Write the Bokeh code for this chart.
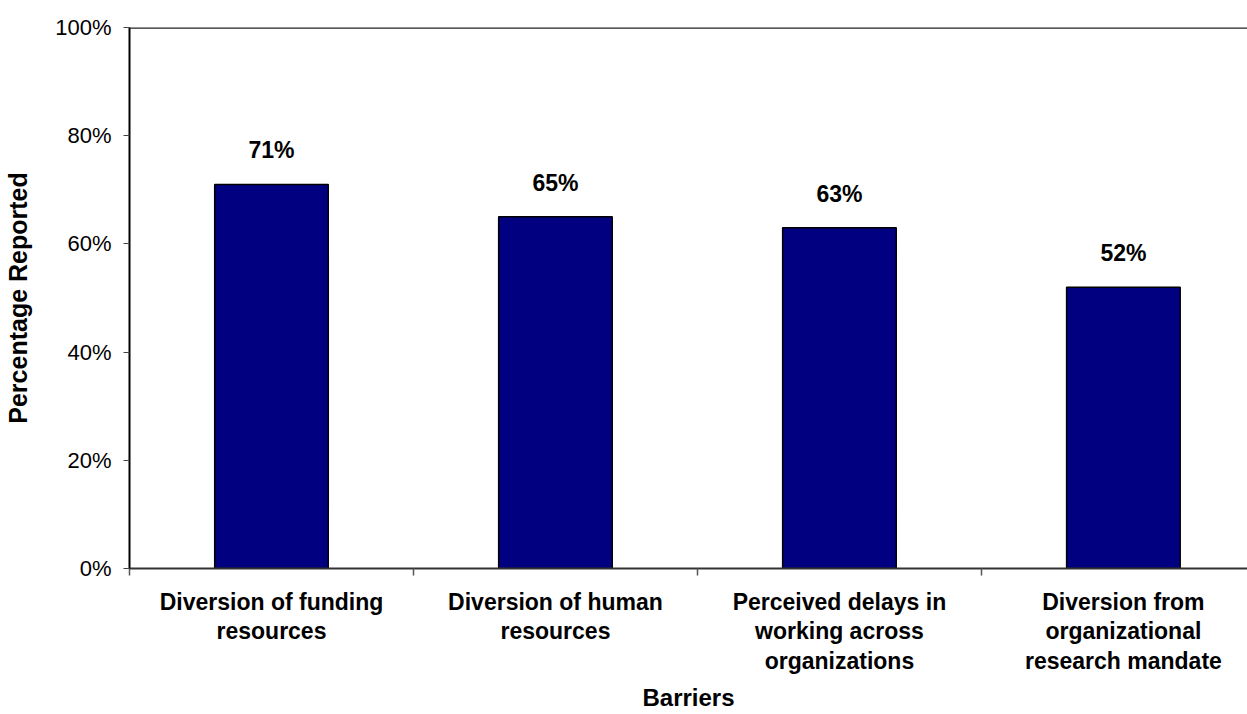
from bokeh.plotting import figure
from bokeh.models import Range1d, FixedTicker, Span, ColumnDataSource
from bokeh.core.properties import value
from bokeh.embed import file_html
from bokeh.resources import INLINE

categories = ["Diversion of funding\nresources", "Diversion of human\nresources",
              "Perceived delays in\nworking across\norganizations",
              "Diversion from\norganizational\nresearch mandate"]
values = [71, 65, 63, 52]
y_ticks = [0, 20, 40, 60, 80, 100]

xs = [i + 0.5 for i in range(len(categories))]
src = ColumnDataSource(dict(x=xs, top=values, lab=[f"{v}%" for v in values]))

fnt = "Liberation Sans"

p = figure(width=1247, height=714, output_backend="svg", toolbar_location=None,
           x_range=Range1d(0, 3.937), y_range=Range1d(0, 100),
           min_border_left=129, min_border_top=27, min_border_bottom=145, min_border_right=0)
p.outline_line_color = None
p.grid.visible = False
p.background_fill_color = "white"

p.vbar(x="x", top="top", width=0.4, bottom=0, source=src,
       fill_color="#000080", line_color="black", line_width=1.5)
p.text(x="x", y="top", text="lab", source=src, y_offset=-34,
       text_align="center", text_baseline="middle",
       text_font_size="23px", text_font_style="bold", text_color="black",
       text_font=value(fnt))

p.add_layout(Span(location=100, dimension="width", line_color="#222222", line_width=2.5))

ya = p.yaxis[0]
ya.ticker = FixedTicker(ticks=y_ticks)
ya.major_label_overrides = {t: f"{t}%" for t in y_ticks}
ya.major_label_text_font = fnt
ya.major_label_text_font_size = "22px"
ya.major_label_text_color = "black"
ya.major_tick_out = 6
ya.major_tick_in = 0
ya.minor_tick_out = 0
ya.minor_tick_in = 0
ya.major_label_standoff = 12
ya.axis_line_color = "black"
ya.axis_line_width = 2
ya.major_tick_line_color = "#444444"
ya.axis_label = "Percentage Reported"
ya.axis_label_text_font = fnt
ya.axis_label_text_font_size = "25px"
ya.axis_label_text_font_style = "bold"
ya.axis_label_text_color = "black"
ya.axis_label_standoff = 20

xa = p.xaxis[0]
xa.ticker = FixedTicker(ticks=xs, minor_ticks=[0, 1, 2, 3])
xa.major_label_overrides = {x: c for x, c in zip(xs, categories)}
xa.major_label_text_font = fnt
xa.major_label_text_font_size = "23px"
xa.major_label_text_font_style = "bold"
xa.major_label_text_color = "black"
xa.major_label_text_line_height = 1.15
xa.major_tick_out = 0
xa.major_tick_in = 0
xa.minor_tick_out = 7
xa.minor_tick_in = 0
xa.minor_tick_line_color = "#555555"
xa.minor_tick_line_width = 1.5
xa.major_label_standoff = 13
xa.axis_line_color = "#333333"
xa.axis_line_width = 2
xa.axis_label = "Barriers"
xa.axis_label_text_font = fnt
xa.axis_label_text_font_size = "24px"
xa.axis_label_text_font_style = "bold"
xa.axis_label_text_color = "black"
xa.axis_label_standoff = 7

open("out.html", "w").write(file_html(p, INLINE))
